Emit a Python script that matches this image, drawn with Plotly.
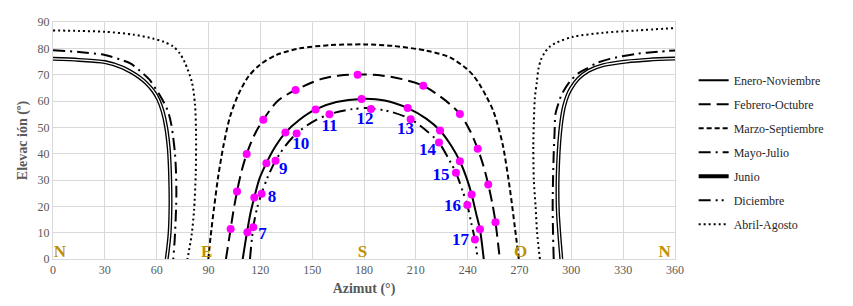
import plotly.graph_objects as go

# ---------------- data ----------------
ene_az = [109.8, 112.3, 114.3, 116.5, 119.5, 123.5, 128.5, 134.5, 142.5, 152, 164, 178.6, 192, 205.3, 216, 224, 230.5, 235.5, 239.5, 242.3, 245, 247.1, 249.3]
ene_el = [0, 10.2, 17.5, 23.4, 30.5, 36.4, 42.5, 48, 52.8, 56.8, 59.6, 60.8, 60.2, 57.3, 53.3, 48.8, 43, 37.1, 30.5, 24.5, 17, 11.3, 0]

feb_az = [100.1, 102.8, 104.5, 106.5, 109, 112.1, 116.5, 121.7, 130, 140.4, 155, 166, 176.3, 190, 202, 214.3, 226, 235.5, 241.5, 245.8, 249.3, 251.9, 254.3, 256.1, 258.6]
feb_el = [0, 11.4, 18.5, 25.6, 33, 39.9, 47, 52.9, 60, 64.2, 68.3, 69.7, 70.1, 69.7, 68.3, 65.8, 60.8, 55.1, 48.5, 41.9, 35, 28.3, 21, 14, 0]

mar_az = [89.9, 91.2, 93.2, 95.7, 98.6, 102.4, 107.3, 113.0, 119.8, 129.4, 142.9, 160.3, 180, 196.9, 216.2, 229.7, 239.3, 243.5, 247, 251, 254.8, 257.8, 260.5, 264.4, 267.3, 269.6]
mar_el = [0, 8.4, 19.4, 31.7, 42.8, 53.9, 62.5, 69.2, 73.8, 77.5, 80, 81.2, 81.5, 80.9, 79.1, 76.6, 72.3, 69.5, 66.2, 61.5, 56.3, 50, 42.8, 26.8, 12.1, 0]

may_az = [0, 15, 30, 40, 45, 52, 56, 60, 62, 64.5, 66.6, 68.5, 69.6, 70.6, 71.2, 71.4, 71, 70.4, 69.6,
          None,
          289.8, 289.4, 289.2, 289.4, 289.8, 290.3, 290.8, 292.5, 294.4, 299.2, 304, 308.9, 315, 322.3, 337.8, 350, 360]
may_el = [79.3, 78.6, 77.5, 75.5, 74.2, 70.5, 68, 64, 62, 59, 56, 51, 46, 40, 33, 24, 15, 7, 0,
          None,
          0, 10, 20, 30, 40, 48, 55, 59, 62.5, 67.4, 70.5, 72.3, 74.5, 76, 77.9, 78.7, 79.2]

jun_az = [0, 15, 30, 40, 45, 50, 54, 58, 61, 63.5, 65.5, 67, 67.6, 67.9, 68.0, 67.5, 66.6, 65.8,
          None,
          294.2, 293.2, 292.2, 292.0, 292.4, 293, 294.2, 295.8, 298, 300, 304, 310, 318.5, 332, 345, 360]
jun_el = [76.0, 75.6, 74.8, 72.8, 71.1, 69.0, 66.8, 63.8, 60.5, 56, 50, 42, 35, 28, 20, 10, 4, 0,
          None,
          0, 8, 18, 28, 37, 44, 52, 58, 62.5, 65, 68.5, 71.5, 73.6, 75, 75.7, 76.1]

dic_az = [114, 115.9, 118, 120.7, 124.5, 128.8, 134.5, 141, 150, 160, 172, 182, 195, 207, 216, 223.4, 229, 233.2, 237, 239.8, 242.3, 244.2, 245.8]
dic_el = [0, 12, 19, 24.8, 31.5, 37.3, 43, 47.7, 52, 55, 56.8, 57.3, 56, 53.1, 48.8, 44.2, 38, 32.8, 26, 20.5, 13, 7.4, 0]

abr_az = [0, 15, 30, 46.6, 57.9, 64, 69.4, 73.5, 76.4, 80.4, 82.2, 82.8, 82.6, 81.6, 80.2, 77.8,
          None,
          281.8, 280.2, 279.3, 278.3, 278, 278.3, 278.9, 280, 281, 282.5, 284.7, 287.5, 291.5, 301.1, 318.5, 337.8, 360]
abr_el = [86.8, 86.6, 86.3, 85.2, 83.7, 82.5, 80.8, 78, 74.5, 67.1, 58.6, 46.5, 32, 18.2, 9, 0,
          None,
          0, 10, 20, 30, 42.8, 52, 61.3, 67, 72.3, 75.8, 78.5, 80.6, 82.2, 84.4, 85.9, 86.8, 87.7]

# hourly sun positions (magenta dots)
dot_az = [102.8, 112.5, 115.9, 106.5, 116.5, 120.7, 112.1, 123.5, 128.8, 121.7, 134.5, 141, 140.4, 152, 160,
          176.3, 178.6, 184, 214.3, 205.3, 207, 235.5, 224, 223.4, 245.8, 235.5, 233.2, 251.9, 242.3, 239.8,
          256.1, 247.1, 244.2]
dot_el = [11.4, 10.2, 12.1, 25.6, 23.4, 24.8, 39.9, 36.4, 37.3, 52.9, 48.0, 47.7, 64.2, 56.8, 55,
          70, 60.8, 57, 65.8, 57.3, 53.1, 55.1, 48.8, 44.2, 41.9, 37.1, 32.8, 28.3, 24.5, 20.5,
          14, 11.3, 7.4]

hour_labels = ["7", "8", "9", "10", "11", "12", "13", "14", "15", "16", "17"]
hour_az = [121.2, 126.8, 133.3, 143.4, 160, 180.6, 204, 216.7, 224.6, 231.2, 235.9]
hour_el = [9.2, 23.2, 34, 43.4, 50.2, 52.9, 48.9, 41, 31.7, 19.9, 7]

card_labels = ["N", "E", "S", "O", "N"]
card_az = [4, 88.9, 179.1, 270.7, 354]
card_el = [2.5, 2.5, 2.5, 2.5, 2.5]

x_ticks = [0, 30, 60, 90, 120, 150, 180, 210, 240, 270, 300, 330, 360]
y_ticks = [0, 10, 20, 30, 40, 50, 60, 70, 80, 90]

# ---------------- figure ----------------
FONT = "Liberation Serif"
fig = go.Figure()

def add_line(x, y, name, dash, width=2, color="black", group=None, showlegend=True):
    fig.add_trace(go.Scatter(
        x=x, y=y, mode="lines", name=name,
        line=dict(color=color, width=width, dash=dash, shape="spline", smoothing=0.8),
        legendgroup=group or name, showlegend=showlegend, connectgaps=False, hoverinfo="skip"))

add_line(ene_az, ene_el, "Enero-Noviembre", "solid")
add_line(feb_az, feb_el, "Febrero-Octubre", "12px,6px")
add_line(mar_az, mar_el, "Marzo-Septiembre", "5px,3px")
add_line(may_az, may_el, "Mayo-Julio", "12px,5px,2px,5px")
add_line(jun_az, jun_el, "Junio", "solid", width=4)
add_line(jun_az, jun_el, "Junio", "solid", width=1.3, color="white", group="Junio", showlegend=False)
add_line(dic_az, dic_el, "Diciembre", "12px,5px,2px,4px,2px,5px")
add_line(abr_az, abr_el, "Abril-Agosto", "2px,3px")

fig.add_trace(go.Scatter(
    x=dot_az, y=dot_el, mode="markers", showlegend=False,
    marker=dict(color="#FF00FF", size=8), hoverinfo="skip"))

fig.add_trace(go.Scatter(
    x=hour_az, y=hour_el, mode="text", text=hour_labels, showlegend=False,
    textfont=dict(family=FONT, size=17, color="#0000FF", weight="bold"), hoverinfo="skip"))

fig.add_trace(go.Scatter(
    x=card_az, y=card_el, mode="text", text=card_labels, showlegend=False,
    textfont=dict(family=FONT, size=17, color="#BF9000", weight="bold"), hoverinfo="skip"))

axis_common = dict(
    showgrid=True, gridcolor="#D9D9D9", gridwidth=1, zeroline=False,
    showline=True, linecolor="#D9D9D9", linewidth=1, ticks="",
    tickfont=dict(family=FONT, size=12, color="#595959"),
)
fig.update_xaxes(range=[0, 360], tickvals=x_ticks, mirror=True,
                 title=dict(text="<b>Azimut (°)</b>", font=dict(family=FONT, size=14, color="#595959"), standoff=6),
                 **axis_common)
fig.update_yaxes(range=[0, 90], tickvals=y_ticks, mirror=True,
                 title=dict(text="<b>Elevac ión (º)</b>", font=dict(family=FONT, size=14, color="#595959"), standoff=6),
                 **axis_common)

# the page body has an 8px margin, so the figure is sized/positioned to compensate
fig.update_layout(
    width=845, height=298,
    margin=dict(l=45, r=178, t=7, b=47),
    paper_bgcolor="white", plot_bgcolor="white",
    font=dict(family=FONT),
    legend=dict(x=1.03, y=0.815, xanchor="left", yanchor="top",
                font=dict(family=FONT, size=12, color="#262626"),
                tracegroupgap=5, bgcolor="rgba(0,0,0,0)"),
)

fig.write_html("out.html")
